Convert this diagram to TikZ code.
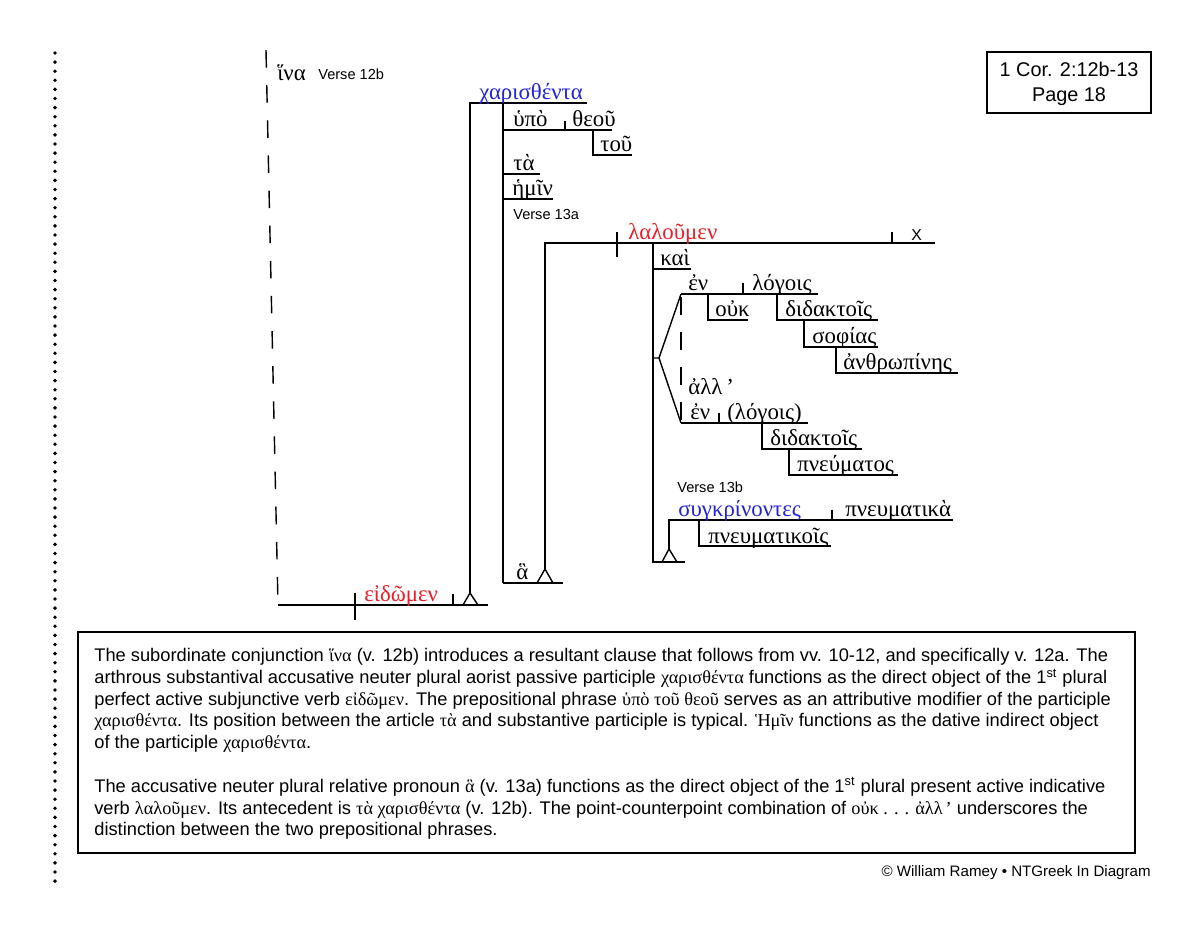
\documentclass[tikz,border=0pt]{standalone}
\usepackage{fontspec}
\setmainfont{Liberation Sans}
\newfontfamily\grkfont{Liberation Serif}
\usetikzlibrary{positioning}
\definecolor{verbred}{HTML}{EE1C25}
\definecolor{partblue}{HTML}{2222DD}
\newcommand{\grk}[1]{{\grkfont #1}}

\begin{document}
\begin{tikzpicture}[x=0.02cm, y=-0.02cm,
    every node/.style={inner sep=0pt},
    wd/.style={anchor=base west, font=\fontsize{13}{14}\grkfont},
    vlab/.style={anchor=base west, font=\fontsize{8.3}{10}\selectfont},
    ln/.style={line width=0.8pt},
    conj/.style={line width=0.8pt, dash pattern=on 10pt off 10pt},
    frame/.style={draw, line width=0.7pt}
]
\useasboundingbox (0,0) rectangle (1200,925);

% dotted margin
\foreach \k in {0,...,91} \fill (55,53+9.1*\k) circle (1.1pt);

% Verse 12b: hina clause
\draw[conj] (266,50) -- (278,605);
\node[wd] (hina) at (277,81) {ἵνα};
\node[vlab] (v12b) at (318,80) {Verse 12b};
\draw[ln] (278,605) -- (488,605);
\draw[ln] (355,593) -- (355,620);
\node[wd, text=verbred] (eidomen) at (364,602) {εἰδῶμεν};
\draw[ln] (453,594) -- (453,605);
\draw[ln] (463,605) -- (470,593) -- (478,605);
\draw[ln] (470,593) -- (470,103) -- (587,103);
\node[wd, text=partblue] (charis) at (479,100) {χαρισθέντα};
\draw[ln] (503,103) -- (503,583);
% modifiers of the participle
\draw[ln] (503,130) -- (612,130);
\draw[ln] (565,121) -- (565,130);
\node[wd] (hypo) at (513,127) {ὑπὸ};
\node[wd] (theou) at (572,127) {θεοῦ};
\draw[ln] (593,130) -- (593,155) -- (632,155);
\node[wd] (tou) at (600,152) {τοῦ};
\draw[ln] (503,174) -- (540,174);
\node[wd] (ta) at (513,171) {τὰ};
\draw[ln] (503,199) -- (553,199);
\node[wd] (hemin) at (512,196) {ἡμῖν};

% Verse 13a: relative clause
\node[vlab] (v13a) at (513,220) {Verse 13a};
\draw[ln] (503,583) -- (563,583);
\node[wd] (ha) at (516,580) {ἃ};
\draw[ln] (537,583) -- (545,569) -- (553,583);
\draw[ln] (545,569) -- (545,243) -- (935,243);
\draw[ln] (617,232) -- (617,257);
\node[wd, text=verbred] (laloumen) at (628,240) {λαλοῦμεν};
\draw[ln] (892,232) -- (892,243);
\node[anchor=base west, font=\fontsize{9}{10}\selectfont] (xobj) at (911,241) {X};
\draw[ln] (653,243) -- (653,562) -- (685,562);
\draw[ln] (653,269) -- (691,269);
\node[wd] (kai) at (660,266) {καὶ};
% compound prepositional phrases
\draw[ln] (653,358) -- (659,358) -- (681,294);
\draw[ln] (659,358) -- (681,423);
\draw[conj] (681,297) -- (681,423);
\draw[ln] (681,294) -- (818,294);
\draw[ln] (743,283) -- (743,294);
\node[wd] (en1) at (688,291) {ἐν};
\node[wd] (logois1) at (752,291) {λόγοις};
\draw[ln] (708,294) -- (708,320) -- (748,320);
\node[wd] (ouk) at (715,317) {οὐκ};
\draw[ln] (777,294) -- (777,320) -- (878,320);
\node[wd] (didakt1) at (785,317) {διδακτοῖς};
\draw[ln] (804,320) -- (804,347) -- (878,347);
\node[wd] (sophias) at (812,344) {σοφίας};
\draw[ln] (836,347) -- (836,373) -- (958,373);
\node[wd] (anthrop) at (843,370) {ἀνθρωπίνης};
\node[wd] (all) at (688,395) {ἀλλ\,’};
\draw[ln] (681,423) -- (808,423);
\draw[ln] (719,413) -- (719,423);
\node[wd] (en2) at (690,420) {ἐν};
\node[wd] (logois2) at (727,420) {(λόγοις)};
\draw[ln] (762,423) -- (762,449) -- (862,449);
\node[wd] (didakt2) at (770,446) {διδακτοῖς};
\draw[ln] (789,449) -- (789,475) -- (898,475);
\node[wd] (pneumatos) at (797,472) {πνεύματος};

% Verse 13b: participial clause
\node[vlab] (v13b) at (677,493) {Verse 13b};
\draw[ln] (662,562) -- (669,549) -- (677,562);
\draw[ln] (669,549) -- (669,520) -- (953,520);
\draw[ln] (832,510) -- (832,520);
\node[wd, text=partblue] (synkr) at (678,517) {συγκρίνοντες};
\node[wd] (pneumatika) at (845,517) {πνευματικὰ};
\draw[ln] (699,520) -- (699,546) -- (831,546);
\node[wd] (pneumatikois) at (708,543) {πνευματικοῖς};

% reference box
\draw[frame] (987,52) rectangle (1151,113);
\node[align=center, font=\fontsize{11.3}{14.2}\selectfont] (ref) at (1069,84) {1 Cor. 2:12b-13\\Page 18};

% notes
\draw[frame] (78,632) rectangle (1135,853);
\node[anchor=north west, align=left, font=\fontsize{10.4}{12.4}\selectfont] (notes) at (94,648) {%
The subordinate conjunction \grk{ἵνα} (v. 12b) introduces a resultant clause that follows from vv. 10-12, and specifically v. 12a. The\\
arthrous substantival accusative neuter plural aorist passive participle \grk{χαρισθέντα} functions as the direct object of the 1\textsuperscript{st} plural\\
perfect active subjunctive verb \grk{εἰδῶμεν}. The prepositional phrase \grk{ὑπὸ τοῦ θεοῦ} serves as an attributive modifier of the participle\\
\grk{χαρισθέντα}. Its position between the article \grk{τὰ} and substantive participle is typical. \grk{Ἡμῖν} functions as the dative indirect object\\
of the participle \grk{χαρισθέντα}.\\[12.4pt]
The accusative neuter plural relative pronoun \grk{ἃ} (v. 13a) functions as the direct object of the 1\textsuperscript{st} plural present active indicative\\
verb \grk{λαλοῦμεν}. Its antecedent is \grk{τὰ χαρισθέντα} (v. 12b). The point-counterpoint combination of \grk{οὐκ . . . ἀλλ\,’} underscores the\\
distinction between the two prepositional phrases.};
\node[anchor=base east, font=\fontsize{8.6}{10}\selectfont] (copy) at (1151,876) {© William Ramey • NTGreek In Diagram};
\end{tikzpicture}
\end{document}
